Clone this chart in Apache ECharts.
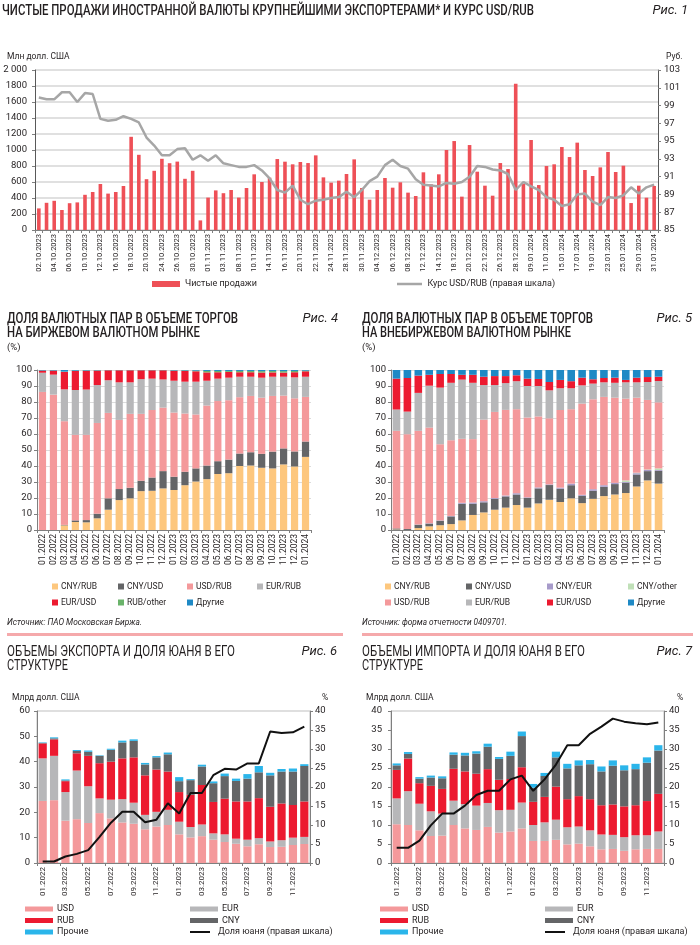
<!DOCTYPE html>
<html><head><meta charset="utf-8">
<script src="https://cdn.jsdelivr.net/npm/echarts/dist/echarts.min.js"></script>
<style>
html,body{margin:0;padding:0;background:#fff;}
body{width:700px;height:945px;position:relative;overflow:hidden;font-family:Roboto,"Noto Sans",sans-serif;color:#231f20;}
#c{position:absolute;left:0;top:0;width:700px;height:945px;}
.t{position:absolute;white-space:nowrap;font-weight:500;font-size:14px;line-height:14px;transform-origin:0 0;}
.fig{position:absolute;white-space:nowrap;font-style:italic;font-size:13px;line-height:14px;transform-origin:100% 0;}
.s{position:absolute;white-space:nowrap;font-size:9.5px;line-height:11px;}
.src{position:absolute;white-space:nowrap;font-style:italic;font-size:8.5px;line-height:10px;transform-origin:0 0;}
.sep{position:absolute;height:3px;background:#f5a9ab;}
</style></head>
<body>
<div id="c"></div>
<div class="t" data-w="532" style="left:2px;top:3px;">ЧИСТЫЕ ПРОДАЖИ ИНОСТРАННОЙ ВАЛЮТЫ КРУПНЕЙШИМИ ЭКСПОРТЕРАМИ* И КУРС USD/RUB</div>
<div class="fig" style="right:12px;top:3px;">Рис. 1</div>
<div class="s" style="left:7px;top:51px;font-size:8.5px;">Млн долл. США</div>
<div class="s" style="left:666px;top:51px;font-size:8.5px;">Руб.</div>

<div class="t" data-w="231" style="left:7px;top:311px;">ДОЛЯ ВАЛЮТНЫХ ПАР В ОБЪЕМЕ ТОРГОВ</div>
<div class="t" data-w="193" style="left:7px;top:325px;">НА БИРЖЕВОМ ВАЛЮТНОМ РЫНКЕ</div>
<div class="s" style="left:7px;top:341px;">(%)</div>
<div class="fig" style="right:362px;top:311px;">Рис. 4</div>
<div class="src" data-w="135" style="left:7px;top:617px;">Источник: ПАО Московская Биржа.</div>

<div class="t" data-w="231" style="left:362px;top:311px;">ДОЛЯ ВАЛЮТНЫХ ПАР В ОБЪЕМЕ ТОРГОВ</div>
<div class="t" data-w="209" style="left:362px;top:325px;">НА ВНЕБИРЖЕВОМ ВАЛЮТНОМ РЫНКЕ</div>
<div class="s" style="left:362px;top:341px;">(%)</div>
<div class="fig" style="right:8px;top:311px;">Рис. 5</div>
<div class="src" data-w="145" style="left:362px;top:617px;">Источник: форма отчетности 0409701.</div>

<div class="sep" style="left:7px;width:336px;top:633px;"></div>
<div class="sep" style="left:362px;width:331px;top:633px;"></div>
<div class="t" data-w="228" style="left:7px;top:644px;font-weight:400;">ОБЪЕМЫ ЭКСПОРТА И ДОЛЯ ЮАНЯ В ЕГО</div>
<div class="t" data-w="61" style="left:7px;top:658px;font-weight:400;">СТРУКТУРЕ</div>
<div class="fig" style="right:363px;top:644px;">Рис. 6</div>
<div class="s" style="left:12px;top:692px;font-size:8.5px;">Млрд долл. США</div>
<div class="s" style="left:322px;top:692px;font-size:8.5px;">%</div>

<div class="t" data-w="223" style="left:362px;top:644px;font-weight:400;">ОБЪЕМЫ ИМПОРТА И ДОЛЯ ЮАНЯ В ЕГО</div>
<div class="t" data-w="61" style="left:362px;top:658px;font-weight:400;">СТРУКТУРЕ</div>
<div class="fig" style="right:8px;top:644px;">Рис. 7</div>
<div class="s" style="left:366px;top:692px;font-size:8.5px;">Млрд долл. США</div>
<div class="s" style="left:677px;top:692px;font-size:8.5px;">%</div>

<script>
// ---------- Fig 1 data ----------
const f1Dates = ['02.10.2023','03.10.2023','04.10.2023','05.10.2023','06.10.2023','09.10.2023','10.10.2023','11.10.2023','12.10.2023','13.10.2023','16.10.2023','17.10.2023','18.10.2023','19.10.2023','20.10.2023','23.10.2023','24.10.2023','25.10.2023','26.10.2023','27.10.2023','30.10.2023','31.10.2023',
'01.11.2023','02.11.2023','03.11.2023','07.11.2023','08.11.2023','09.11.2023','10.11.2023','13.11.2023','14.11.2023','15.11.2023','16.11.2023','17.11.2023','20.11.2023','21.11.2023','22.11.2023','23.11.2023','24.11.2023','27.11.2023','28.11.2023','29.11.2023','30.11.2023',
'01.12.2023','04.12.2023','05.12.2023','06.12.2023','07.12.2023','08.12.2023','11.12.2023','12.12.2023','13.12.2023','14.12.2023','15.12.2023','18.12.2023','19.12.2023','20.12.2023','21.12.2023','22.12.2023','25.12.2023','26.12.2023','27.12.2023','28.12.2023','29.12.2023',
'09.01.2024','10.01.2024','11.01.2024','12.01.2024','15.01.2024','16.01.2024','17.01.2024','18.01.2024','19.01.2024','22.01.2024','23.01.2024','24.01.2024','25.01.2024','26.01.2024','29.01.2024','30.01.2024','31.01.2024'];
const f1Sales = [270,340,365,250,335,345,440,475,575,455,475,550,1165,940,635,740,890,835,855,640,740,120,405,495,460,500,405,
525,696,600,654,887,854,821,850,837,933,658,592,617,700,883,525,379,500,650,529,596,467,425,721,571,696,1000,
1112,417,1062,729,554,429,837,762,1829,579,1125,562,800,821,1037,912,1092,750,675,783,975,725,804,337,554,404,550];
const f1Rate = [99.9,99.7,99.7,100.5,100.5,99.4,100.4,100.3,97.5,97.3,97.4,97.8,97.5,97.1,95.4,94.5,93.4,93.4,94.1,94.2,92.9,93.4,92.8,93.4,92.5,92.3,92.1,
92.1,92.3,91.7,90.8,89.5,89.2,90.0,88.4,87.9,88.3,88.4,88.6,88.7,89.3,88.7,89.5,90.5,91.0,92.3,92.9,92.2,91.9,90.7,90.1,90.0,89.9,90.3,
90.2,90.4,91.0,92.2,92.1,91.8,91.7,91.3,89.5,90.4,89.9,89.5,88.7,88.4,87.7,87.9,89.0,89.1,88.2,87.8,88.7,88.6,88.9,89.8,89.1,89.8,90.1];
const f1LeftTicks = [0,2000,200];
const f1RightTicks = [85,103,2];

// ---------- Fig 4 data (exchange) ----------
const months25 = ['01.2022','02.2022','03.2022','04.2022','05.2022','06.2022','07.2022','08.2022','09.2022','10.2022','11.2022','12.2022','01.2023','02.2023','03.2023','04.2023','05.2023','06.2023','07.2023','08.2023','09.2023','10.2023','11.2023','12.2023','01.2024'];
const f4CnyRub = [0,0,2.9,5,4.8,7.3,12.7,18.7,19.8,24.3,24.5,26,25,28,30.3,31.8,35,35.5,40,40.3,38.9,38.5,41,39.7,45.7];
const f4CnyUsd = [0,0,0.3,1,1.4,2.9,7.1,6.9,6.6,6.5,8.3,10.8,8.3,8.4,8.2,8.5,8,8.5,7.8,8.3,8.7,10.5,10,9.4,9.6];
const f4UsdRub = [86.3,84.6,64.8,53.5,53.3,56.7,53.4,43.2,46.2,41.8,42.2,39.7,40.1,36.4,33.7,37.5,37.6,37.1,35.2,35.2,35.1,34.8,33,33.2,27.9];
const f4EurRub = [12,12.5,19.9,28,28.3,23.7,20.4,23.5,19.7,21.7,19.6,17.6,19.9,19.9,20.5,15.5,14,14.1,12.8,12,12.5,12,11.8,13.1,12.6];
const f4EurUsd = [1.3,2.5,10.9,11.9,11.7,9,6.2,7.5,7.5,5.5,5.2,5.7,6.2,6.7,6.5,5.2,4,3.6,2.8,2.8,3.2,2.7,2.6,3.2,3.4];
const f4RubOther = [0.1,0.1,0.2,0.2,0.2,0.2,0.1,0.1,0.1,0.1,0.1,0.1,0.2,0.3,0.4,0.9,0.8,0.6,0.8,0.8,0.9,0.9,0.9,0.8,0.4];
const f4Other = [0.3,0.3,1.0,0.4,0.3,0.2,0.1,0.1,0.1,0.1,0.1,0.1,0.3,0.3,0.4,0.6,0.6,0.6,0.6,0.6,0.7,0.6,0.7,0.6,0.4];

// ---------- Fig 5 data (OTC) ----------
const f5CnyRub = [0.3,0,1.2,2.3,3,3.7,6,9.4,11,12.7,14,15.6,14,16.6,18.9,17.5,19.8,16.8,19.5,21.2,22.2,23.1,27.2,31,29];
const f5CnyUsd = [0.7,0.6,2.1,1.7,2.8,4.8,10.4,7,6.3,6.8,7,6.6,6,9.4,9.2,8.3,8.2,4.6,5,5.8,6.5,6.4,7.5,5.8,8];
const f5CnyEur = [0,0,0.1,0.2,0.2,0.3,0.6,0.8,0.7,0.5,0.5,0.8,0.4,0.6,0.4,0.7,1,0.6,1,1,0.8,0.5,0.8,0.7,0.5];
const f5CnyOther = [0,0,0,0,0,0,0,0,0,0,0,0,0,0,0,0,0,0,0,0,0,1,0.3,0.3,1];
const f5UsdRub = [61,59.3,58.6,59.8,47.6,47.3,40,39.6,51,53.8,53.6,52.5,49.9,44.4,41.3,48.5,46.5,57,56.2,55.2,53.2,51.1,46.9,43.5,41.3];
const f5EurRub = [13.3,14.1,23.7,26.2,35.4,35.9,37,35.2,21.6,16.8,16.7,17.5,19.7,19,17.5,13.6,13.1,11.4,9.8,9.1,9.3,10.2,9.6,11.2,13.3];
const f5EurUsd = [19.3,21,10.8,6.8,8.5,5.5,3,5,5.2,5.6,4.4,3.7,4.6,4.4,5.2,5.2,4.4,4.8,2.7,2.7,3.2,1.5,2.9,3.1,2.7];
const f5Other = [5.4,5,3.5,3,2.5,2.5,3,3,4.2,3.8,3.8,3.3,5.4,5.6,7.5,6.2,7,4.8,5.8,5,4.8,6.2,4.8,4.4,4.2];

// ---------- Fig 6 data (exports) ----------
const months24 = months25.slice(0,24);
const f6Usd = [24.5,24.8,16.7,17.3,15.8,19.7,17.6,16,15.5,13.3,14.4,15,11.3,10.1,10.6,9.2,8.3,7.6,6.6,7.4,6.3,6.4,7.1,7.5];
const f6Eur = [16.8,17.5,11.3,19.2,14.5,5.8,7.4,9.2,8.3,5.7,5.8,6,5,4.1,4.6,2.5,3,2,2.6,2.4,2.2,2.6,2.9,2.8];
const f6Rub = [5.9,6.5,4.3,6.8,12,13.9,15,16.1,17.9,15.6,16.7,15.1,11.7,12.7,15.6,12.4,14.1,14.7,15.1,15.8,13.7,14.5,12.9,14];
const f6Cny = [0.2,0.4,0.3,0.9,1.6,2.9,4.7,6.3,6.5,4.3,4.8,6.8,4.3,5.8,7.3,7.4,8.9,8.1,9,10.2,12.4,12.6,13.2,14];
const f6Oth = [0.2,0.4,0.4,0.4,0.5,0.2,0.4,0.7,0.6,0.6,0.5,0.7,1.6,0.4,0.7,0.7,1,0.9,1.8,2.5,1,1,1.2,0.7];
const f6Share = [0.4,0.4,1.7,2.4,3.4,6.9,10.6,13.5,13.5,10.7,11.4,15.7,13,18.4,18.4,23.1,24.8,24.6,26.2,26.2,34.6,34.2,34.4,35.9];

// ---------- Fig 7 data (imports) ----------
const f7Usd = [10.2,10,8.6,7.1,7.2,10,9.1,8.7,9.5,8,8.3,9.1,5.8,5.8,6.1,4.9,5.1,4.4,3.6,3.7,3.2,3.6,3.7,3.7];
const f7Eur = [6.8,8.9,7,6.5,5.8,6.4,6.4,6.4,6.3,5.9,5.7,6.8,4.2,4.9,5.3,4.5,4.5,4.2,3.9,3.7,3.6,3.7,3.6,4.6];
const f7Rub = [7.5,8.6,5.4,6.7,6.5,8.4,8.6,8.4,8.9,8,8.1,9.3,6.1,6.7,8.7,7.4,8,8.2,7.7,8,8.1,7.9,9,9.9];
const f7Cny = [1.2,1.2,1.2,2.2,2.8,3.7,4.2,5.3,5.9,5.5,6.1,8.2,3.7,5.5,7.7,8.1,8.1,9.2,8.9,10.2,9.5,9.5,10.1,11.4];
const f7Oth = [0.5,0.5,0.4,0.5,0.5,0.6,0.7,0.6,0.8,0.5,1.1,1.2,1,0.8,1.5,1.2,1.3,1.1,1.3,1.4,1.3,1.4,1.4,1.4];
const f7Share = [4,4,5.9,9.9,13,13,15.1,17.9,19,19,22,23,19,22,25.9,31,31,34,35.9,38,37.2,36.8,36.5,37];

// ---------- styles ----------
const C = {
  sales:'#ee5057', rate:'#a6a6a6',
  'CNY/RUB':'#fdc77e','CNY/USD':'#646567','USD/RUB':'#f4999b','EUR/RUB':'#b7b7b9','EUR/USD':'#ec1a30',
  'RUB/other':'#6ab36a','Другие':'#1e89c5','CNY/EUR':'#a79bca','CNY/other':'#c0e0b8',
  USD:'#f4999b',EUR:'#b7b7b9',RUB:'#ec1a30',CNY:'#646567','Прочие':'#2bb5ea',share:'#111111'
};
const TXT = '#231f20';
const AX = '#7f7f7f';
const font = 'Roboto';
const LINE_ICON = 'path://M0,0H100V10H0Z';

const grids = [], xAxes = [], yAxes = [], series = [], legends = [];

function catAxis(gi, data, opts){
  xAxes.push(Object.assign({
    type:'category', gridIndex:gi, data:data,
    axisLine:{show:true,lineStyle:{color:AX,width:1}},
    axisTick:{show:true,length:3,lineStyle:{color:AX}},
    axisLabel:{rotate:90,fontSize:9,color:TXT,fontFamily:font,margin:4,interval:0}
  }, opts||{}));
  return xAxes.length-1;
}
function valAxis(gi, min, max, interval, opts){
  yAxes.push(Object.assign({
    type:'value', gridIndex:gi, min:min, max:max, interval:interval,
    axisLine:{show:true,lineStyle:{color:AX,width:1}},
    axisTick:{show:true,length:3,lineStyle:{color:AX}},
    axisLabel:{fontSize:9.5,color:TXT,fontFamily:font,margin:6},
    splitLine:{show:false}
  }, opts||{}));
  return yAxes.length-1;
}
function legendBox(names, left, top, w, h, extra){
  legends.push(Object.assign({data:names, orient:'vertical', left:left, top:top, padding:0,
    selectedMode:false, textStyle:{fontSize:9,lineHeight:10,color:TXT,fontFamily:font}}, extra||{}));
}

// ===== Fig 1 =====
grids.push({left:35, top:70, width:623, height:160});
const x1 = catAxis(0, f1Dates, {axisLabel:{rotate:90,fontSize:7.5,color:TXT,fontFamily:font,margin:4,interval:1}, axisTick:{show:true,length:3,interval:0,lineStyle:{color:AX}}});
const y1L = valAxis(0, f1LeftTicks[0], f1LeftTicks[1], f1LeftTicks[2], {
  axisLabel:{fontSize:9.5,color:TXT,fontFamily:font,margin:8,formatter:v=>v===2000?'2 000':String(v)},
  axisLine:{show:true,lineStyle:{color:'#595959',width:1}},
  splitLine:{show:true,lineStyle:{color:'#d6d6d6',width:1.5}}});
const y1R = valAxis(0, f1RightTicks[0], f1RightTicks[1], f1RightTicks[2], {position:'right',
  axisLabel:{fontSize:9.5,color:TXT,fontFamily:font,margin:6},
  axisLine:{show:true,lineStyle:{color:'#595959',width:1}}});
series.push({name:'Чистые продажи', type:'bar', xAxisIndex:x1, yAxisIndex:y1L, data:f1Sales, barWidth:3.6, itemStyle:{color:C.sales}});
series.push({name:'Курс USD/RUB (правая шкала)', type:'line', xAxisIndex:x1, yAxisIndex:y1R, data:f1Rate, symbol:'none', lineStyle:{color:C.rate,width:2.5}, itemStyle:{color:C.rate}, z:5});
legendBox([{name:'Чистые продажи',icon:'rect'}], 152, 279, 0, 0, {itemWidth:28, itemHeight:6});
legendBox([{name:'Курс USD/RUB (правая шкала)',icon:LINE_ICON}], 397, 279, 0, 0, {itemWidth:26, itemHeight:2.5});

// ===== Fig 4 / 5 =====
function shareChart(gi, grid, stackName, names, datas, barW){
  grids.push(grid);
  const xi = catAxis(gi, months25, {axisLabel:{rotate:90,fontSize:8.5,color:TXT,fontFamily:font,margin:4,interval:0}});
  const yi = valAxis(gi, 0, 100, 10, {axisLabel:{fontSize:9.5,color:TXT,fontFamily:font,margin:5},
    splitLine:{show:true,lineStyle:{color:'#dcdcdc',width:1}}});
  names.forEach((n,i)=>{
    series.push({name:n, type:'bar', stack:stackName, xAxisIndex:xi, yAxisIndex:yi, data:datas[i], barWidth:barW, itemStyle:{color:C[n]}});
  });
}
shareChart(1, {left:37, top:370, width:274, height:160}, 'f4',
  ['CNY/RUB','CNY/USD','USD/RUB','EUR/RUB','EUR/USD','RUB/other','Другие'],
  [f4CnyRub,f4CnyUsd,f4UsdRub,f4EurRub,f4EurUsd,f4RubOther,f4Other], 7.2);
shareChart(2, {left:391, top:370, width:273, height:160}, 'f5',
  ['CNY/RUB','CNY/USD','CNY/EUR','CNY/other','USD/RUB','EUR/RUB','EUR/USD','Другие'],
  [f5CnyRub,f5CnyUsd,f5CnyEur,f5CnyOther,f5UsdRub,f5EurRub,f5EurUsd,f5Other], 7.6);

function sqLegend(names, left, top){
  legendBox(names.map(n=>({name:n,icon:'rect'})), left, top, 0, 0,
    {itemWidth:6, itemHeight:6, itemGap:5, textStyle:{fontSize:8.5,lineHeight:11,color:TXT,fontFamily:font,padding:[0,0,0,-2]}});
}
sqLegend(['CNY/RUB','EUR/USD'], 52, 581);
sqLegend(['CNY/USD','RUB/other'], 118, 581);
sqLegend(['USD/RUB','Другие'], 187, 581);
sqLegend(['EUR/RUB'], 257, 581);
sqLegend(['CNY/RUB','USD/RUB'], 385, 581);
sqLegend(['CNY/USD','EUR/RUB'], 466, 581);
sqLegend(['CNY/EUR','EUR/USD'], 547, 581);
sqLegend(['CNY/other','Другие'], 628, 581);

// ===== Fig 6 / 7 =====
function tradeChart(gi, grid, stackName, datas, share, lmax, lint, ymarginL){
  grids.push(Object.assign({show:true, borderColor:'#bfbfbf', borderWidth:1, backgroundColor:'transparent'}, grid));
  const xi = catAxis(gi, months24, {axisLabel:{rotate:90,fontSize:8,color:TXT,fontFamily:font,margin:4,interval:1}});
  const yl = valAxis(gi, 0, lmax, lint, {axisLabel:{fontSize:9.5,color:TXT,fontFamily:font,margin:ymarginL}});
  const yr = valAxis(gi, 0, 40, 5, {position:'right', axisLabel:{fontSize:9.5,color:TXT,fontFamily:font,margin:5}});
  ['USD','EUR','RUB','CNY','Прочие'].forEach((n,i)=>{
    series.push({name:n, type:'bar', stack:stackName, xAxisIndex:xi, yAxisIndex:yl, data:datas[i], barWidth:8.2, itemStyle:{color:C[n]}});
  });
  series.push({name:'Доля юаня (правая шкала)', type:'line', xAxisIndex:xi, yAxisIndex:yr, data:share, symbol:'none', lineStyle:{color:C.share,width:2}, itemStyle:{color:C.share}, z:5});
}
tradeChart(3, {left:37, top:711, width:273, height:152}, 'f6', [f6Usd,f6Eur,f6Rub,f6Cny,f6Oth], f6Share, 60, 10, 7);
tradeChart(4, {left:391, top:711, width:273, height:152}, 'f7', [f7Usd,f7Eur,f7Rub,f7Cny,f7Oth], f7Share, 40, 5, 9);

function rectLegend(items, left, top){
  legendBox(items.map(n=>({name:n,icon:'rect'})), left, top, 0, 0,
    {itemWidth:28, itemHeight:5, itemGap:1.5, textStyle:{fontSize:9,lineHeight:10,color:TXT,fontFamily:font,padding:[0,0,0,-1]}});
}
function lineLegend(name, left, top){
  legendBox([{name:name,icon:LINE_ICON}], left, top, 0, 0,
    {itemWidth:28, itemHeight:2, textStyle:{fontSize:9,lineHeight:10,color:TXT,fontFamily:font,padding:[0,0,0,-1]}});
}
rectLegend(['USD','RUB','Прочие'], 25, 904);
rectLegend(['EUR','CNY'], 190, 904);
lineLegend('Доля юаня (правая шкала)', 190, 927);
rectLegend(['USD','RUB','Прочие'], 380, 904);
rectLegend(['EUR','CNY'], 545, 904);
lineLegend('Доля юаня (правая шкала)', 545, 927);

const chart = echarts.init(document.getElementById('c'), null, {renderer:'canvas'});
chart.setOption({
  animation:false,
  backgroundColor:'#ffffff',
  textStyle:{fontFamily:font},
  grid:grids, xAxis:xAxes, yAxis:yAxes, series:series, legend:legends
});

// fit title widths to the reference
document.querySelectorAll('[data-w]').forEach(el=>{
  const w = el.getBoundingClientRect().width;
  const t = parseFloat(el.getAttribute('data-w'));
  if (w>0) el.style.transform = 'scaleX(' + (t/w).toFixed(4) + ')';
});
</script>
</body></html>
